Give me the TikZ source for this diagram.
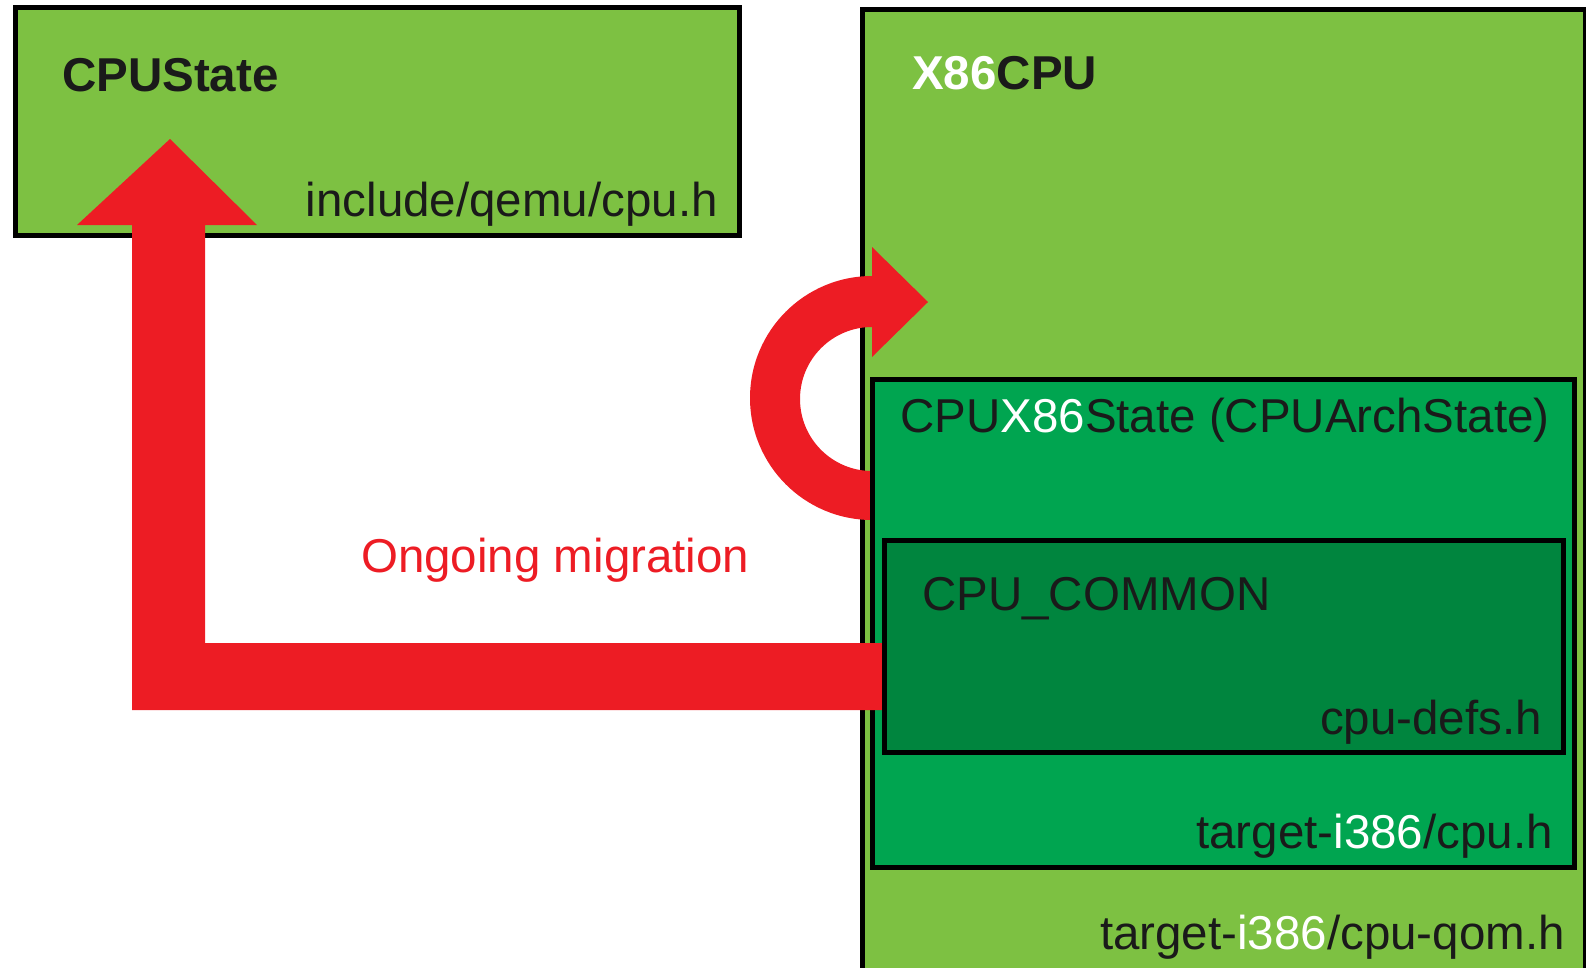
\documentclass[tikz,border=0pt]{standalone}
\usepackage{fontspec}
\setmainfont{Liberation Sans}
\definecolor{leaf}{RGB}{125,193,66}
\definecolor{midgreen}{RGB}{0,165,80}
\definecolor{deepgreen}{RGB}{0,133,62}
\definecolor{migred}{RGB}{237,28,36}
\definecolor{ink}{RGB}{26,26,26}
\begin{document}
\begin{tikzpicture}[x=1pt,y=-1pt,line join=miter,
    box/.style={draw=black,line width=5pt,rectangle,outer sep=0pt,inner sep=0pt,anchor=north west},
    lbl/.style={inner sep=0pt,text=ink,font=\fontsize{47.5}{57}\selectfont},
    redarrow/.style={fill=migred,draw=none}]
\useasboundingbox (0,0) rectangle (1586,967);
% outer boxes
\node[box,fill=leaf,minimum width=724,minimum height=228] (cpustate) at (15,7.5) {};
\node[box,fill=leaf,minimum width=723,minimum height=961] (x86cpu) at (862,9) {};
% arrow from the arch state back into X86CPU
\fill[redarrow] (872,470) -- (872,520) arc[start angle=90,end angle=270,radius=122]
    -- (872,247) -- (928,302) -- (872,357) -- (872,327)
    arc[start angle=270,end angle=90,radius=72] -- cycle;
\node[box,fill=midgreen,minimum width=702,minimum height=488] (archstate) at (872,379) {};
% migration arrow towards CPUState
\fill[redarrow] (170,139) -- (257,225) -- (205,225) -- (205,643) -- (885,643)
    -- (885,710) -- (132,710) -- (132,225) -- (77,225) -- cycle;
\node[box,fill=deepgreen,minimum width=678.5,minimum height=212] (common) at (884.5,540) {};
% labels
\node[lbl,anchor=base west,font=\fontsize{47.5}{57}\selectfont\bfseries] (cpustate-name) at (62,91) {CPUState};
\node[lbl,anchor=base east] (cpustate-file) at (718,216) {include/qemu/cpu.h};
\node[lbl,anchor=base west,font=\fontsize{47.5}{57}\selectfont\bfseries] (x86cpu-name) at (912,89) {\textcolor{white}{X86}CPU};
\node[lbl,anchor=base west,text=migred] (migration) at (361,572) {Ongoing migration};
\node[lbl,anchor=base west] (archstate-name) at (900,432) {CPU\textcolor{white}{X86}State (CPUArchState)};
\node[lbl,anchor=base west] (common-name) at (922,610) {CPU\_COMMON};
\node[lbl,anchor=base east] (common-file) at (1542,734) {cpu-defs.h};
\node[lbl,anchor=base east] (archstate-file) at (1553,848) {target-\textcolor{white}{i386}/cpu.h};
\node[lbl,anchor=base east] (x86cpu-file) at (1565,949) {target-\textcolor{white}{i386}/cpu-qom.h};
\end{tikzpicture}
\end{document}
